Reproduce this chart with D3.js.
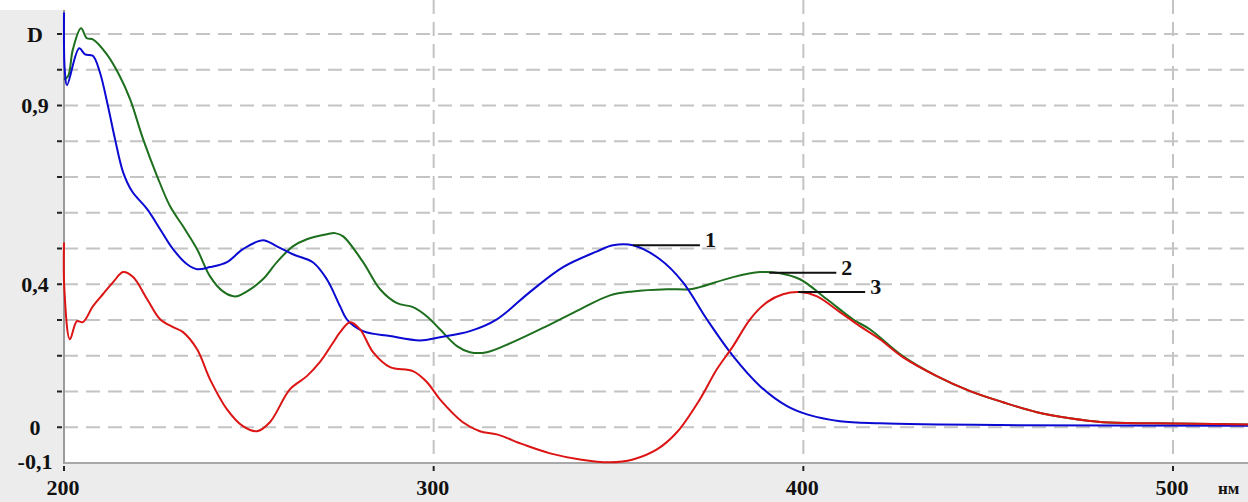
<!DOCTYPE html>
<html>
<head>
<meta charset="utf-8">
<script src="https://cdn.jsdelivr.net/npm/d3@7"></script>
<style>
  body { margin: 0; background: #ffffff; }
  text { font-family: "Liberation Serif", "Times New Roman", serif; font-weight: bold; fill: #111; }
</style>
</head>
<body>
<div id="chart"></div>
<script>
// spectra: [wavelength nm, D]
const curve1 = [
  [200, 1.16], [200.2, 1.0], [200.8, 0.957], [204.1, 1.06], [205.7, 1.043], [207.8, 1.039],
  [209.7, 0.993], [211.9, 0.898], [213.8, 0.806], [216.0, 0.713], [218.4, 0.66], [222.5, 0.61],
  [226.0, 0.554], [229.5, 0.498], [233.3, 0.456], [236.0, 0.442], [239.5, 0.448], [244.1, 0.462],
  [248.4, 0.498], [253.8, 0.523], [257.6, 0.506], [261.9, 0.484], [267.4, 0.461], [271.1, 0.414],
  [274.7, 0.338], [276.5, 0.302], [280.9, 0.269], [288.2, 0.255], [296.3, 0.243], [301.7, 0.252],
  [309.8, 0.269], [317.1, 0.302], [326.0, 0.378], [335.0, 0.448], [344.2, 0.492], [348.5, 0.509],
  [353.9, 0.509], [361.2, 0.47], [367.4, 0.406], [373.9, 0.302], [381.0, 0.199], [388.3, 0.115],
  [395.6, 0.059], [401.0, 0.036], [409.9, 0.017], [420.7, 0.011], [453.2, 0.006], [520.3, 0.004]
];
const curve2 = [
  [200, 0.973], [201.1, 0.982], [202.4, 1.057], [204.6, 1.116], [206.2, 1.088], [207.8, 1.085],
  [211.6, 1.043], [215.1, 0.982], [217.9, 0.917], [221.4, 0.806], [225.2, 0.702], [228.7, 0.618],
  [232.2, 0.562], [236.0, 0.498], [239.5, 0.422], [243.0, 0.38], [246.3, 0.366], [249.5, 0.38],
  [253.8, 0.414], [257.6, 0.462], [261.9, 0.506], [265.7, 0.526], [271.1, 0.54], [273.3, 0.543],
  [275.5, 0.534], [280.9, 0.462], [285.5, 0.386], [290.1, 0.347], [294.4, 0.336], [298.2, 0.31],
  [301.7, 0.274], [306.3, 0.227], [309.8, 0.21], [314.4, 0.21], [321.4, 0.238], [330.6, 0.283],
  [339.6, 0.33], [347.7, 0.369], [353.9, 0.38], [363.1, 0.386], [369.3, 0.386], [372.0, 0.392],
  [381.0, 0.42], [388.3, 0.434], [393.7, 0.431], [399.1, 0.414], [406.4, 0.358], [413.4, 0.302],
  [418.0, 0.274], [426.9, 0.199], [436.1, 0.143], [445.1, 0.101], [454.0, 0.07], [463.2, 0.042],
  [472.1, 0.025], [481.0, 0.014], [494.6, 0.011], [520.3, 0.008]
];
const curve3 = [
  [200, 0.517], [200.1, 0.386], [201.6, 0.246], [203.5, 0.297], [205.1, 0.294], [207.8, 0.338],
  [210.5, 0.372], [213.3, 0.406], [216.0, 0.434], [218.7, 0.42], [222.5, 0.358], [226.0, 0.302],
  [229.5, 0.28], [232.2, 0.266], [236.0, 0.218], [239.5, 0.134], [244.1, 0.05], [248.4, 0.003],
  [252.2, -0.011], [255.7, 0.014], [261.1, 0.106], [265.7, 0.143], [269.2, 0.182], [272.5, 0.232],
  [274.7, 0.266], [277.4, 0.294], [280.1, 0.274], [283.6, 0.21], [288.2, 0.168], [294.4, 0.157],
  [298.2, 0.126], [301.7, 0.078], [307.9, 0.014], [312.5, -0.011], [317.1, -0.02], [324.2, -0.048],
  [331.5, -0.073], [339.6, -0.09], [347.7, -0.098], [353.9, -0.09], [360.4, -0.062], [365.8, -0.014],
  [372.0, 0.078], [376.6, 0.162], [381.0, 0.227], [385.6, 0.302], [390.2, 0.35], [394.5, 0.372],
  [399.1, 0.378], [403.7, 0.366], [409.9, 0.322], [415.3, 0.283], [420.7, 0.246], [426.9, 0.196],
  [436.1, 0.143], [445.1, 0.101], [454.0, 0.07], [463.2, 0.042], [472.1, 0.025], [481.0, 0.014],
  [494.6, 0.011], [520.3, 0.008]
];

const seriesNames = ["1", "2", "3"];
const seriesColors = ["#0a0ad2", "#1d6f1d", "#dc1414"];
// where each number label is hooked to its curve
const labelPoints = [[353.9, 0.509], [390.8, 0.432], [398.6, 0.378]];

const xTickValues = [200, 300, 400, 500];
const xTickLabels = ["200", "300", "400", "500"];
const yGridValues = [0, 0.1, 0.2, 0.3, 0.4, 0.5, 0.6, 0.7, 0.8, 0.9, 1.0, 1.1];
const yTickValues = [1.1, 0.9, 0.4, 0, -0.1];
const yTickLabels = ["D", "0,9", "0,4", "0", "-0,1"];
const xUnit = "нм";

function drawSpectra() {
  const W = 1248, H = 502;
  const left = 64, bottom = 463;

  const svg = d3.select("#chart").append("svg")
    .attr("width", W)
    .attr("height", H);

  const x = d3.scaleLinear().domain([200, 500]).range([left, 1173]);
  const y = d3.scaleLinear().domain([-0.1, 1.1]).range([bottom, 34]);

  // grey frame around the white plot
  svg.append("rect").attr("x", 0).attr("y", 10).attr("width", left).attr("height", H - 10).attr("fill", "#ececec");
  svg.append("rect").attr("x", 0).attr("y", bottom).attr("width", W).attr("height", H - bottom).attr("fill", "#ececec");

  // dashed grid
  svg.append("g")
    .selectAll("line")
    .data(yGridValues)
    .enter()
    .append("line")
    .attr("x1", left).attr("x2", W)
    .attr("y1", d => y(d)).attr("y2", d => y(d))
    .attr("stroke", "#c4c4c4")
    .attr("stroke-width", 2)
    .attr("stroke-dasharray", "14,8");

  svg.append("g")
    .selectAll("line")
    .data(xTickValues.slice(1))
    .enter()
    .append("line")
    .attr("x1", d => x(d)).attr("x2", d => x(d))
    .attr("y1", 0).attr("y2", bottom)
    .attr("stroke", "#c4c4c4")
    .attr("stroke-width", 2)
    .attr("stroke-dasharray", "14,8");

  // axis lines
  svg.append("line").attr("x1", left).attr("x2", left).attr("y1", 10).attr("y2", bottom + 1)
    .attr("stroke", "#9a9a9a").attr("stroke-width", 2);
  svg.append("line").attr("x1", left).attr("x2", W).attr("y1", bottom).attr("y2", bottom)
    .attr("stroke", "#a8a8a8").attr("stroke-width", 2);

  // left ticks
  svg.append("g")
    .selectAll("line")
    .data(yGridValues)
    .enter()
    .append("line")
    .attr("x1", 57).attr("x2", 62)
    .attr("y1", d => y(d)).attr("y2", d => y(d))
    .attr("stroke", "#222").attr("stroke-width", 2);

  // bottom ticks
  svg.append("g")
    .selectAll("line")
    .data(xTickValues)
    .enter()
    .append("line")
    .attr("x1", d => x(d)).attr("x2", d => x(d))
    .attr("y1", bottom + 3).attr("y2", bottom + 8)
    .attr("stroke", "#222").attr("stroke-width", 2);

  // tick labels
  svg.append("g")
    .selectAll("text")
    .data(yTickValues)
    .enter()
    .append("text")
    .attr("x", 35)
    .attr("y", d => y(d) - (d < 0 ? 2 : 0))
    .attr("dy", "0.35em")
    .attr("text-anchor", "middle")
    .style("font-size", "22px")
    .text((d, i) => yTickLabels[i]);

  svg.append("g")
    .selectAll("text")
    .data(xTickValues)
    .enter()
    .append("text")
    .attr("x", d => x(d) - 1)
    .attr("y", 495)
    .attr("text-anchor", "middle")
    .style("font-size", "22px")
    .text((d, i) => xTickLabels[i]);

  svg.append("text")
    .attr("x", 1218)
    .attr("y", 494)
    .style("font-size", "17px")
    .text(xUnit);

  // curves
  const line = d3.line()
    .x(d => x(d[0]))
    .y(d => y(d[1]))
    .curve(d3.curveCatmullRom.alpha(0.5));

  [curve2, curve1, curve3].forEach((c, k) => {
    const idx = [1, 0, 2][k];
    svg.append("path")
      .datum(c)
      .attr("fill", "none")
      .attr("stroke", seriesColors[idx])
      .attr("stroke-width", 2)
      .attr("d", line);
  });

  // number labels with leader lines
  const lab = svg.append("g")
    .selectAll("g")
    .data(labelPoints)
    .enter()
    .append("g");

  lab.append("line")
    .attr("x1", d => x(d[0]))
    .attr("x2", d => x(d[0]) + 67)
    .attr("y1", d => y(d[1]))
    .attr("y2", d => y(d[1]))
    .attr("stroke", "#111")
    .attr("stroke-width", 2);

  lab.append("text")
    .attr("x", d => x(d[0]) + 72)
    .attr("y", d => y(d[1]) - 6)
    .attr("dy", "0.35em")
    .style("font-size", "22px")
    .text((d, i) => seriesNames[i]);
}

drawSpectra();
</script>
</body>
</html>
